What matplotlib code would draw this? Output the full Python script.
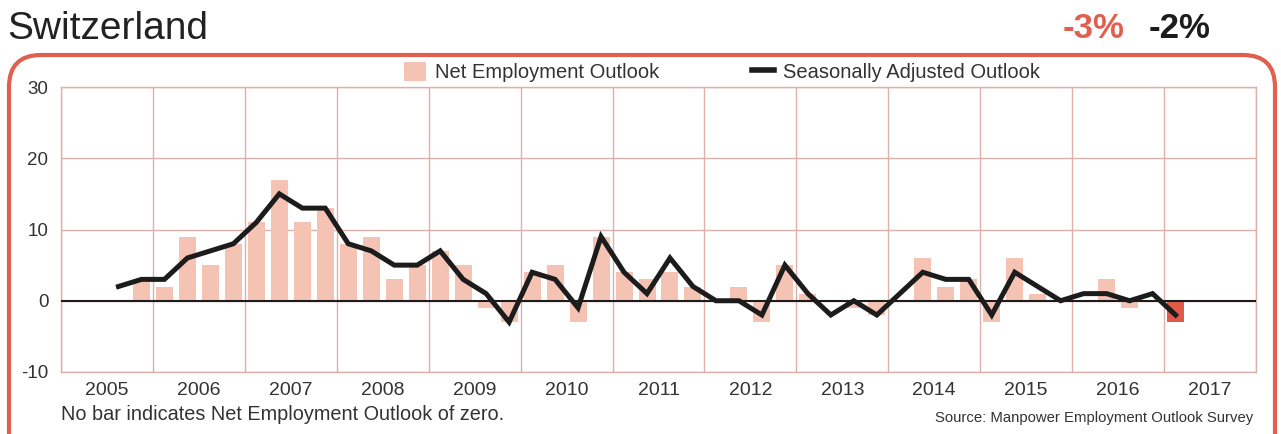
import numpy as np
import matplotlib
matplotlib.use("Agg")
import matplotlib.pyplot as plt
from matplotlib.patches import FancyBboxPatch, Patch
from matplotlib.lines import Line2D

plt.rcParams['font.family'] = ['Liberation Sans', 'DejaVu Sans']

# quarters from 2005 Q3 to 2017 Q1
start_q = 2  # index of first quarter counted from 2005 Q1
years = [str(y) for y in range(2005, 2018)]
neo = [0, 3, 2, 9, 5, 8, 11, 17, 11, 13, 8, 9, 3, 5, 7, 5, -1, -3,
       4, 5, -3, 9, 4, 3, 4, 2, 0, 2, -3, 5, 1, 0, -1, -2,
       0, 6, 2, 3, -3, 6, 1, 0, 0, 3, -1, 0, -3]
sa = [2, 3, 3, 6, 7, 8, 11, 15, 13, 13, 8, 7, 5, 5, 7, 3, 1, -3,
      4, 3, -1, 9, 4, 1, 6, 2, 0, 0, -2, 5, 1, -2, 0, -2,
      1, 4, 3, 3, -2, 4, 2, 0, 1, 1, 0, 1, -2]
yticks = [-10, 0, 10, 20, 30]

grid_c = '#ddb0ab'
bar_c = '#f5c3b4'
last_c = '#e05a4a'
red = '#e0604f'
dark = '#1c1c1c'
txt = '#333333'

fig = plt.figure(figsize=(12.81, 4.34), dpi=100)
ax = fig.add_axes([61 / 1281, 1 - 372 / 434, (1256 - 61) / 1281, (372 - 87) / 434])

x = np.arange(len(neo)) + start_q + 0.5
colors = [bar_c] * (len(neo) - 1) + [last_c]
ax.bar(x, neo, width=0.74, color=colors, zorder=2)
ax.axhline(0, color=dark, lw=1.5, zorder=3)
ax.plot(x, sa, color=dark, lw=3.6, solid_joinstyle='miter', zorder=4)

ax.set_xlim(0, 4 * len(years))
ax.set_ylim(-10, 30)
ax.set_yticks(yticks)
ax.set_yticklabels([str(v) for v in yticks], fontsize=13.5, color=txt)
ax.set_xticks(np.arange(0, 4 * len(years) + 1, 4))
ax.set_xticklabels([])
ax.set_xticks(np.arange(len(years)) * 4 + 2, minor=True)
ax.set_xticklabels(years, minor=True, fontsize=14, color=txt)
ax.tick_params(which='both', length=0)
ax.tick_params(axis='y', pad=9)
ax.tick_params(axis='x', which='minor', pad=7)
ax.grid(True, which='major', color=grid_c, lw=1, zorder=0)
for s in ax.spines.values():
    s.set_color(grid_c)
    s.set_linewidth(1)
ax.set_axisbelow(True)

# legend
handles = [Patch(facecolor=bar_c, edgecolor='none'),
           Line2D([0], [0], color=dark, lw=4)]
fig.legend(handles, ['Net Employment Outlook', 'Seasonally Adjusted Outlook'],
           loc='center', bbox_to_anchor=(722 / 1281, 1 - 72 / 434), ncol=2,
           frameon=False, fontsize=14.5, handlelength=1.1, handleheight=1.1,
           handletextpad=0.45, columnspacing=4.6, labelcolor=txt)

# border box
box = FancyBboxPatch((0.09, -0.6), 12.66, 3.79 + 0.6,
                     boxstyle='round,pad=0,rounding_size=0.32',
                     transform=fig.dpi_scale_trans, fill=False,
                     edgecolor=red, lw=3, clip_on=False)
fig.patches.append(box)

fig.text(7 / 1281, 1 - 29 / 434, 'Switzerland', fontsize=28, color='#222222',
         va='center', ha='left')
fig.text(1124 / 1281, 1 - 28 / 434, '-3%', fontsize=25, color=red,
         fontweight='bold', va='center', ha='right')
fig.text(1149 / 1281, 1 - 28 / 434, '-2%', fontsize=25, color=dark,
         fontweight='bold', va='center', ha='left')
fig.text(61 / 1281, 1 - 414 / 434, 'No bar indicates Net Employment Outlook of zero.',
         fontsize=14.3, color=txt, va='center', ha='left')
fig.text(1253 / 1281, 1 - 418 / 434, 'Source: Manpower Employment Outlook Survey',
         fontsize=10.7, color=txt, va='center', ha='right')

fig.savefig('out.png', dpi=100)
